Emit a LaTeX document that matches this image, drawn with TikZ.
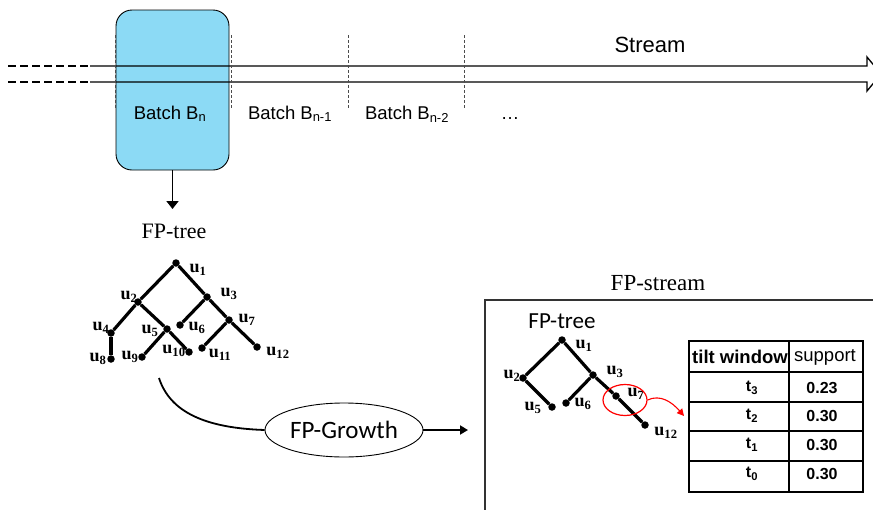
\documentclass[tikz,border=0pt]{standalone}
\usepackage{fontspec}
\setmainfont{Liberation Serif}
\newfontfamily\arialf{Liberation Sans}
\newfontfamily\calif{Carlito}
\usetikzlibrary{arrows.meta,shapes.geometric,positioning}

\definecolor{batchblue}{RGB}{140,218,245}

\tikzset{
  dot/.style={circle, fill=black, inner sep=0pt, minimum size=7.5pt},
  branch/.style={line width=3.2pt},
  ulab/.style={font=\fontsize{18}{18}\selectfont\bfseries, inner sep=0pt},
  cut/.style={dash pattern=on 3pt off 2pt, black!70, line width=0.8pt},
  flow/.style={line width=1.3pt},
  cell/.style={font=\arialf\fontsize{16}{16}\selectfont\bfseries, inner sep=0pt},
}

\begin{document}
\begin{tikzpicture}[x=1pt, y=-1pt]
\useasboundingbox (0,0) rectangle (873,509);

% Batch window
\node[draw=black, line width=0.9pt, fill=batchblue, rounded corners=16pt,
      minimum width=113pt, minimum height=160pt, inner sep=0pt] (batch) at (172.5,90) {};

% Stream (double line with open head)
\draw[flow, dash pattern=on 8pt off 4pt] (8,66) -- (90,66);
\draw[flow, dash pattern=on 8pt off 4pt] (8,82) -- (90,82);
\draw[flow] (90,66) -- (867,66) -- (867,57) -- (881,74) -- (867,91) -- (867,82) -- (90,82);

% Batch boundaries
\foreach \x in {115, 231, 348, 464}
  \draw[cut] (\x,35) -- (\x,109);

\node[font=\arialf\fontsize{22}{22}\selectfont, anchor=base] (stream) at (650,52) {Stream};
\node[font=\arialf\fontsize{18.5}{18.5}\selectfont, anchor=base] (bn) at (170,119) {Batch B\textsubscript{n}};
\node[font=\arialf\fontsize{18.5}{18.5}\selectfont, anchor=base] (bn1) at (290,119) {Batch B\textsubscript{n-1}};
\node[font=\arialf\fontsize{18.5}{18.5}\selectfont, anchor=base] (bn2) at (407,119) {Batch B\textsubscript{n-2}};
\node[font=\arialf\fontsize{18.5}{18.5}\selectfont, anchor=base] (more) at (510,119) {\dots};

% Batch -> FP-tree
\coordinate (down) at (172.5,209);
\draw[line width=1.8pt, -{Triangle[length=8pt,width=12pt]}] (batch.south) -- (down);
\node[font=\fontsize{22}{22}\selectfont, anchor=base] (tree1) at (174,238) {FP-tree};

% Left FP-tree
\foreach \n/\x/\y in {1/176/263, 2/138/302, 3/207/297, 4/111/333, 5/167/329, 6/180/325,
                      7/229/320, 8/111/359, 9/142/357, 10/189/352, 11/202/348, 12/257/347}
  \node[dot] (a\n) at (\x,\y) {};
\foreach \p/\c in {1/2, 1/3, 2/4, 2/5, 4/8, 5/9, 5/10, 3/6, 3/7, 7/11, 7/12}
  \draw[branch] (a\p) -- (a\c);
\foreach \n/\x/\y in {1/198/270, 2/129/297, 3/229/294, 4/101/328, 5/150/331, 6/197/328,
                      7/247/320, 8/98/359, 9/130/357, 10/174/351, 11/220/355, 12/278/353}
  \node[ulab] (la\n) at (\x,\y) {u\textsubscript{\n}};

% FP-Growth
\coordinate (treeout) at (159,378);
\node[draw, ellipse, line width=0.9pt, minimum width=158pt, minimum height=54pt, inner sep=0pt,
      font=\calif\fontsize{25}{25}\selectfont] (grow) at (344,430) {FP-Growth};
\draw[line width=1.8pt] (treeout) .. controls (170,412) and (205,428) .. (grow.west);
\coordinate (growend) at (468,430);
\draw[line width=1.8pt, -{Triangle[length=8pt,width=9pt]}] (grow.east) -- (growend);

% FP-stream frame
\node[font=\fontsize{23}{23}\selectfont, anchor=base] (fps) at (658,290) {FP-stream};
\draw[line width=1.3pt, black!80] (875,300) -- (485,300) -- (485,511);
\node[font=\calif\fontsize{23}{23}\selectfont, anchor=base] (tree2) at (562,328) {FP-tree};

% Right FP-tree
\foreach \n/\x/\y in {1/562/340, 2/523/378, 3/593/375, 5/552/407, 6/566/403, 7/616/396, 12/645/425}
  \node[dot] (b\n) at (\x,\y) {};
\foreach \p/\c in {1/2, 1/3, 2/5, 3/6, 3/7, 7/12}
  \draw[branch] (b\p) -- (b\c);
\foreach \n/\x/\y in {1/584/346, 2/512/376, 3/615/372, 5/533/408, 6/583/404, 7/636/394, 12/666/433}
  \node[ulab] (lb\n) at (\x,\y) {u\textsubscript{\n}};

% Highlight of u7
\node[draw=red, ellipse, line width=1.2pt, minimum width=44pt, minimum height=31pt, inner sep=0pt] (mark) at (625,400) {};
\coordinate (tab) at (684,416);
\draw[red, line width=1.1pt, -{Triangle[length=7pt,width=7pt]}] (mark.east) .. controls (660,394) and (672,402) .. (tab);

% Tilted-time window table
\draw[line width=2.6pt] (689,341) rectangle (863,492);
\draw[line width=1.6pt] (789,341) -- (789,492);
\foreach \y in {372, 402, 431, 461}
  \draw[line width=1.6pt] (689,\y) -- (863,\y);
\node[cell, font=\arialf\fontsize{18.5}{18.5}\selectfont\bfseries] (hwin) at (740,357) {tilt window};
\node[cell, font=\arialf\fontsize{18.5}{18.5}\selectfont] (hsup) at (825,357) {support};
\foreach \i/\t/\v/\y in {3/t3/0.23/388, 2/t2/0.30/416, 1/t1/0.30/445, 0/t0/0.30/474} {
  \node[cell] (\t) at (752,\y) {t\textsubscript{\i}};
  \node[cell] (v\i) at (822,\y) {\v};
}

\end{tikzpicture}
\end{document}
